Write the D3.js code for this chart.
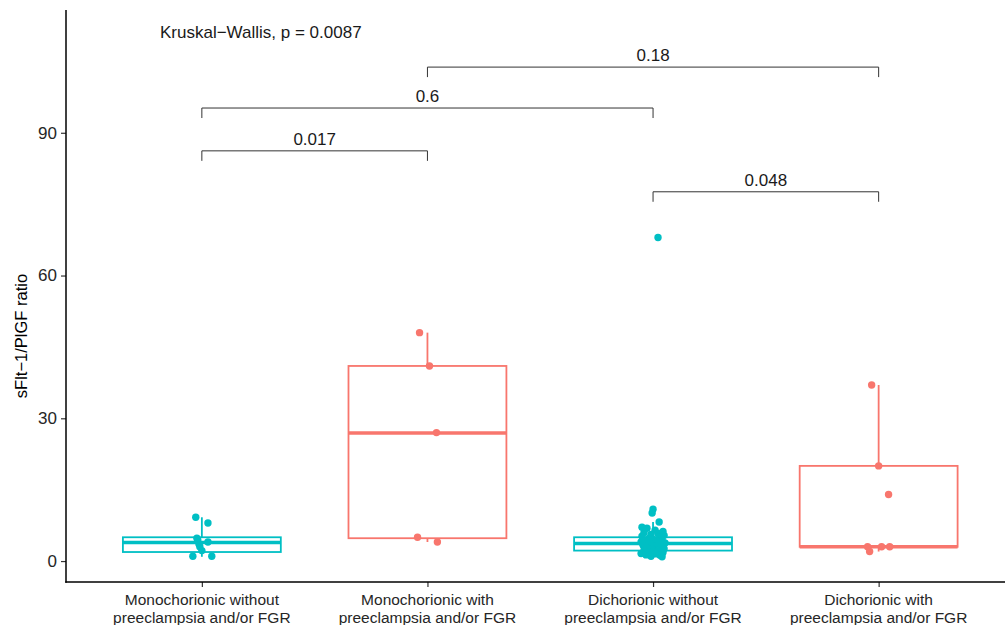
<!DOCTYPE html>
<html>
<head>
<meta charset="utf-8">
<script src="https://cdn.jsdelivr.net/npm/d3@7"></script>
<style>
  body { margin: 0; background: #fff; }
  svg { display: block; font-family: "Liberation Sans", Arial, sans-serif; }
</style>
</head>
<body>
<svg id="chart" width="1005" height="625"></svg>
<script>
// groups on the x axis
const groups = ['MC-', 'MC+', 'DC-', 'DC+']
const groupLabels = [
  ['Monochorionic without', 'preeclampsia and/or FGR'],
  ['Monochorionic with', 'preeclampsia and/or FGR'],
  ['Dichorionic without', 'preeclampsia and/or FGR'],
  ['Dichorionic with', 'preeclampsia and/or FGR']
]
const groupColor = ['#00BFC4', '#F8766D', '#00BFC4', '#F8766D']

// box stats
const q1 = [1.9, 4.8, 2.2, 3.0]
const median = [3.9, 26.9, 3.7, 3.0]
const q3 = [5.0, 41.0, 5.0, 20.0]
const whiskerLow = [0.9, 4.0, 0.8, 2.0]
const whiskerHigh = [9.2, 48.0, 8.2, 37.0]

// jittered points (value, jitter in category units)
const mcNoValues = [9.2, 8.0, 4.8, 4.4, 4.0, 3.6, 3.0, 2.2, 1.0, 1.0]
const mcNoJitter = [-0.027, 0.027, -0.022, -0.018, 0.027, -0.013, -0.009, 0.0, -0.04, 0.044]
const mcYesValues = [48, 41, 27, 5, 4]
const mcYesJitter = [-0.035, 0.009, 0.04, -0.044, 0.044]
const dcNoValues = [68, 10.9, 10.1, 8.2, 7.1, 6.9, 6.5, 6.2, 6.0, 5.8, 5.6, 5.4, 5.2, 5.0, 4.8, 4.6,
  4.5, 4.3, 4.1, 4.0, 3.8, 3.7, 3.5, 3.3, 3.1, 3.0, 2.8, 2.6, 2.5, 2.3, 2.1, 2.0, 1.8, 1.6, 1.5,
  1.3, 1.2, 1.0, 0.9]
const dcNoJitter = [0.022, 0.0, -0.004, 0.027, -0.049, -0.027, 0.009, 0.044, -0.04, 0.022, -0.009,
  0.049, -0.049, 0.031, -0.018, 0.0, 0.04, -0.035, 0.018, -0.053, 0.053, -0.013, 0.027, -0.044,
  0.004, 0.035, -0.027, 0.049, -0.004, -0.04, 0.022, -0.018, 0.044, -0.053, 0.013, -0.031,
  0.031, -0.009, 0.04]
const dcYesValues = [37, 20, 14, 3, 2, 3, 3]
const dcYesJitter = [-0.031, 0.0, 0.044, -0.049, -0.04, 0.013, 0.049]

// pairwise comparisons
const cmpFrom = ['MC-', 'MC-', 'MC+', 'DC-']
const cmpTo = ['MC+', 'DC-', 'DC+', 'DC+']
const cmpY = [86.2, 95.2, 103.8, 77.6]
const cmpLabel = ['0.017', '0.6', '0.18', '0.048']
const kwLabel = 'Kruskal\u2212Wallis, p = 0.0087'

const yTicks = [0, 30, 60, 90]

const svg = d3.select('#chart')
const width = 1005, height = 625
const panel = { left: 66, top: 10, bottom: 582, right: 1005 }

const x = d3.scalePoint().domain(groups).range([66.5, 1014]).padding(0.6)
const step = x.step()
const y = d3.scaleLinear().domain([-4.4, 115.8]).range([panel.bottom, panel.top])

svg.append('rect').attr('width', width).attr('height', height).attr('fill', '#fff')

// boxes
const boxW = 0.7 * step
const boxes = svg.append('g')
groups.forEach((g, i) => {
  const cx = x(g)
  const col = groupColor[i]
  const b = boxes.append('g').attr('stroke', col).attr('fill', 'none')
  b.append('line').attr('x1', cx).attr('x2', cx)
    .attr('y1', y(q3[i])).attr('y2', y(whiskerHigh[i])).attr('stroke-width', 1.8)
  b.append('line').attr('x1', cx).attr('x2', cx)
    .attr('y1', y(q1[i])).attr('y2', y(whiskerLow[i])).attr('stroke-width', 1.8)
  b.append('rect').attr('x', cx - boxW / 2).attr('width', boxW)
    .attr('y', y(q3[i])).attr('height', y(q1[i]) - y(q3[i]))
    .attr('fill', '#fff').attr('stroke-width', 1.8)
  b.append('line').attr('x1', cx - boxW / 2).attr('x2', cx + boxW / 2)
    .attr('y1', y(median[i])).attr('y2', y(median[i])).attr('stroke-width', 3.6)
})

// points
const pointSets = [
  [mcNoValues, mcNoJitter],
  [mcYesValues, mcYesJitter],
  [dcNoValues, dcNoJitter],
  [dcYesValues, dcYesJitter]
]
pointSets.forEach(([vals, jit], i) => {
  const pts = vals.map((v, k) => ({ v: v, j: jit[k] }))
  svg.append('g').selectAll('circle')
    .data(pts)
    .enter()
    .append('circle')
    .attr('cx', d => x(groups[i]) + d.j * step)
    .attr('cy', d => y(d.v))
    .attr('r', 3.7)
    .attr('fill', groupColor[i])
})

// comparison brackets
const drop = 2.1
const br = svg.append('g')
cmpLabel.forEach((lab, i) => {
  const x1 = x(cmpFrom[i]), x2 = x(cmpTo[i])
  const yy = y(cmpY[i]), yd = y(cmpY[i] - drop)
  br.append('path')
    .attr('d', `M${x1},${yd}V${yy}H${x2}V${yd}`)
    .attr('fill', 'none').attr('stroke', '#333').attr('stroke-width', 1)
  br.append('text')
    .attr('x', (x1 + x2) / 2).attr('y', yy - 6)
    .attr('text-anchor', 'middle')
    .attr('font-size', 17).attr('fill', '#1a1a1a')
    .text(lab)
})

svg.append('text')
  .attr('x', 160).attr('y', 38)
  .attr('font-size', 17).attr('fill', '#1a1a1a')
  .text(kwLabel)

// y axis
const yAxis = svg.append('g').attr('transform', `translate(${panel.left},0)`)
  .call(d3.axisLeft(y).tickValues(yTicks).tickSize(5).tickPadding(4))
yAxis.select('.domain').remove()
yAxis.selectAll('.tick line').attr('stroke', '#333').attr('stroke-width', 1.2)
yAxis.selectAll('.tick text').attr('font-size', 17).attr('fill', '#262626')
  .attr('font-family', '"Liberation Sans", Arial, sans-serif')

// x axis
const xAxis = svg.append('g').attr('transform', `translate(0,${panel.bottom})`)
  .call(d3.axisBottom(x).tickSize(5).tickFormat(''))
xAxis.select('.domain').remove()
xAxis.selectAll('.tick line').attr('stroke', '#333').attr('stroke-width', 1.2)
groups.forEach((g, i) => {
  const t = svg.append('text')
    .attr('x', x(g)).attr('y', 605)
    .attr('text-anchor', 'middle')
    .attr('font-size', 15.5).attr('fill', '#262626')
  groupLabels[i].forEach((line, k) => {
    t.append('tspan').attr('x', x(g)).attr('dy', k === 0 ? 0 : 17.5).text(line)
  })
})

// axis lines
svg.append('line').attr('x1', panel.left).attr('x2', panel.left)
  .attr('y1', panel.top).attr('y2', panel.bottom + 0.75)
  .attr('stroke', '#000').attr('stroke-width', 1.5)
svg.append('line').attr('x1', panel.left - 0.75).attr('x2', panel.right)
  .attr('y1', panel.bottom).attr('y2', panel.bottom)
  .attr('stroke', '#000').attr('stroke-width', 1.5)

// y title
svg.append('text')
  .attr('transform', `translate(27,${(panel.top + panel.bottom) / 2 + 40}) rotate(-90)`)
  .attr('text-anchor', 'middle')
  .attr('font-size', 16.5).attr('fill', '#000')
  .text('sFlt\u22121/PlGF ratio')
</script>
</body>
</html>
